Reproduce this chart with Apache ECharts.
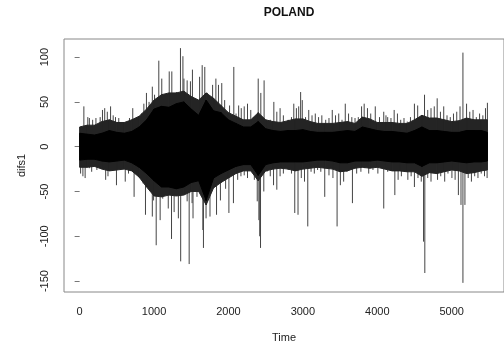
<!DOCTYPE html>
<html style="height: 100%">
<head>
<meta charset="UTF-8">
<title>POLAND</title>
<script src="https://cdn.jsdelivr.net/npm/echarts@6.0.0/dist/echarts.min.js"></script>
</head>
<body style="height: 100%; margin: 0; background: #fff">
<div id="container" style="width: 504px; height: 351px;"></div>
<script type="text/javascript">
// time points of the envelope readings (every 100 steps)
var times = [0, 100, 200, 300, 400, 500, 600, 700, 800, 900, 1000, 1100, 1200, 1300, 1400, 1500, 1600, 1700, 1800, 1900,
  2000, 2100, 2200, 2300, 2400, 2500, 2600, 2700, 2800, 2900, 3000, 3100, 3200, 3300, 3400, 3500, 3600, 3700, 3800, 3900,
  4000, 4100, 4200, 4300, 4400, 4500, 4600, 4700, 4800, 4900, 5000, 5100, 5200, 5300, 5400, 5480];
// solid black core of difs1
var coreHi = [15, 14, 13, 15, 18, 16, 15, 17, 22, 30, 42, 45, 44, 48, 50, 42, 35, 52, 40, 38,
  30, 26, 22, 22, 28, 20, 18, 17, 18, 18, 19, 17, 16, 16, 16, 17, 18, 17, 22, 20,
  18, 17, 17, 16, 15, 18, 22, 18, 18, 17, 16, 16, 18, 18, 18, 16];
var coreLo = [-15, -14, -14, -16, -17, -16, -15, -18, -23, -30, -38, -45, -45, -47, -45, -40, -38, -60, -35, -30,
  -26, -22, -20, -20, -32, -20, -18, -17, -17, -17, -17, -16, -15, -15, -16, -18, -18, -16, -16, -16,
  -15, -16, -17, -17, -18, -18, -22, -18, -18, -17, -16, -17, -18, -17, -17, -16];
// dense dark fringe around the core
var fringeHi = [22, 24, 24, 28, 30, 27, 27, 30, 34, 42, 52, 58, 60, 60, 62, 56, 52, 60, 54, 46,
  38, 34, 30, 30, 38, 30, 28, 27, 29, 31, 31, 28, 26, 26, 26, 27, 28, 26, 33, 31,
  27, 27, 27, 26, 26, 30, 35, 32, 32, 30, 28, 29, 32, 30, 30, 30];
var fringeLo = [-23, -23, -22, -25, -27, -26, -25, -27, -34, -45, -55, -56, -54, -55, -54, -50, -50, -65, -46, -40,
  -35, -30, -27, -27, -38, -27, -25, -24, -25, -27, -25, -24, -23, -24, -25, -28, -27, -24, -23, -24,
  -23, -25, -27, -27, -28, -28, -33, -29, -30, -28, -26, -27, -30, -29, -27, -26];
// visible hairs and spikes: [time, value]
var hairs = [
  [22, 19], [57, 45], [110, 33], [131, 32], [175, 30], [219, 32], [276, 33], [307, 41], [337, 43], [372, 39],
  [416, 45], [451, 35], [482, 33], [526, 32], [556, 24], [591, 26], [635, 26], [670, 32], [714, 43], [745, 30],
  [788, 26], [832, 37], [863, 48], [898, 60], [933, 50], [977, 67], [1007, 58], [1064, 96], [1104, 76], [1152, 48],
  [1204, 84], [1239, 84], [1270, 52], [1301, 61], [1336, 58], [1355, 110], [1388, 101], [1402, 76], [1445, 74], [1489, 73],
  [1516, 86], [1524, 54], [1577, 26], [1612, 78], [1647, 91], [1682, 89], [1717, 60], [1752, 52], [1787, 69], [1831, 76],
  [1866, 69], [1910, 71], [1949, 52], [1980, 30], [2015, 46], [2072, 89], [2102, 37], [2137, 46], [2172, 43], [2212, 45],
  [2256, 48], [2300, 41], [2335, 33], [2365, 32], [2400, 76], [2435, 60], [2479, 74], [2518, 28], [2562, 30], [2610, 50],
  [2650, 39], [2694, 43], [2738, 35], [2760, 24], [2803, 30], [2847, 33], [2878, 48], [2913, 43], [2944, 45], [2970, 61],
  [2992, 52], [3036, 33], [3079, 41], [3123, 35], [3167, 37], [3211, 33], [3255, 35], [3307, 30], [3351, 32], [3395, 41],
  [3439, 35], [3482, 37], [3526, 30], [3570, 48], [3614, 37], [3658, 33], [3701, 32], [3745, 33], [3789, 45], [3824, 48],
  [3868, 43], [3912, 37], [3973, 45], [4030, 33], [4087, 39], [4117, 35], [4140, 33], [4184, 32], [4227, 41], [4271, 37],
  [4315, 30], [4359, 32], [4403, 28], [4446, 33], [4499, 48], [4543, 46], [4591, 35], [4635, 58], [4678, 41], [4722, 43],
  [4766, 45], [4805, 54], [4849, 39], [4893, 45], [4937, 35], [4981, 33], [5024, 37], [5068, 39], [5112, 45], [5151, 105],
  [5200, 48], [5243, 39], [5287, 41], [5331, 33], [5375, 37], [5419, 35], [5454, 43], [5480, 49],
  [13, -30], [44, -33], [74, -35], [131, -24], [162, -28], [232, -26], [285, -20], [350, -37], [381, -33], [425, -26],
  [495, -43], [547, -26], [613, -39], [657, -30], [688, -26], [732, -56], [788, -30], [832, -26], [854, -41], [885, -76],
  [933, -33], [977, -78], [994, -60], [1029, -110], [1082, -82], [1117, -58], [1191, -69], [1235, -103], [1270, -73], [1327, -80],
  [1358, -128], [1402, -47], [1445, -61], [1472, -131], [1511, -63], [1524, -80], [1577, -56], [1612, -35], [1656, -93], [1664, -113],
  [1699, -80], [1752, -78], [1796, -43], [1840, -76], [1892, -60], [1927, -35], [1962, -47], [2006, -74], [2067, -63], [2124, -37],
  [2168, -33], [2212, -32], [2256, -35], [2300, -26], [2348, -37], [2387, -61], [2409, -82], [2420, -100], [2431, -113], [2475, -50],
  [2518, -28], [2562, -33], [2606, -43], [2650, -48], [2694, -33], [2738, -30], [2760, -24], [2803, -26], [2847, -30], [2891, -74],
  [2935, -76], [2979, -35], [3022, -39], [3066, -89], [3110, -28], [3154, -30], [3198, -26], [3241, -28], [3294, -56], [3351, -32],
  [3404, -35], [3460, -89], [3504, -43], [3548, -39], [3592, -28], [3666, -63], [3723, -30], [3780, -28], [3833, -24], [3885, -30],
  [3942, -26], [4008, -30], [4087, -69], [4140, -28], [4184, -26], [4236, -54], [4280, -37], [4324, -33], [4367, -28], [4411, -37],
  [4455, -33], [4499, -45], [4547, -35], [4591, -39], [4622, -106], [4639, -141], [4678, -35], [4722, -39], [4766, -28], [4810, -37],
  [4853, -33], [4906, -39], [4950, -30], [5003, -35], [5046, -37], [5090, -54], [5125, -65], [5151, -152], [5178, -65], [5222, -35],
  [5265, -39], [5309, -33], [5353, -35], [5397, -30], [5441, -33], [5476, -35]
];
var xTicks = [0, 1000, 2000, 3000, 4000, 5000];
var yTicks = [-150, -100, -50, 0, 50, 100];

// one item per segment between two readings: [t0, t1, hi0, lo0, hi1, lo1]
function segments(hi, lo) {
  var out = [];
  for (var i = 0; i < times.length - 1; i++) {
    out.push([times[i], times[i + 1], hi[i], lo[i], hi[i + 1], lo[i + 1]]);
  }
  return out;
}
function bandItem(color) {
  return function (params, api) {
    var a = api.coord([api.value(0), api.value(2)]);
    var b = api.coord([api.value(1), api.value(4)]);
    var c = api.coord([api.value(1), api.value(5)]);
    var d = api.coord([api.value(0), api.value(3)]);
    return {
      type: 'polygon',
      shape: { points: [a, b, c, d] },
      style: { fill: color, stroke: color, lineWidth: 1 }
    };
  };
}

var dom = document.getElementById('container');
var myChart = echarts.init(dom, null, { renderer: 'canvas' });
var font = 'Liberation Sans, Arial, sans-serif';
var plain = function (v) { return String(v); };

var option = {
  animation: false,
  backgroundColor: '#fff',
  graphic: [{
    type: 'text', x: 289, y: 13,
    style: { text: 'POLAND', font: 'bold 12px ' + font, fill: '#111', textAlign: 'center', textVerticalAlign: 'middle' }
  }],
  grid: { left: 64, top: 39, width: 450, height: 253, show: true, borderColor: '#888', borderWidth: 1, backgroundColor: 'transparent' },
  xAxis: {
    type: 'value', min: -210, max: 5703,
    name: 'Time', nameLocation: 'middle', nameGap: 40,
    nameTextStyle: { fontFamily: font, fontSize: 11, color: '#222' },
    axisLine: { show: false },
    splitLine: { show: false },
    axisTick: { show: true, length: 5, customValues: xTicks, lineStyle: { color: '#777' } },
    axisLabel: { customValues: xTicks, formatter: plain, margin: 14, fontFamily: font, fontSize: 11, color: '#222' }
  },
  yAxis: {
    type: 'value', min: -162.2, max: 120.2,
    name: 'difs1', nameLocation: 'middle', nameGap: 37,
    nameTextStyle: { fontFamily: font, fontSize: 11, color: '#222' },
    axisLine: { show: false },
    splitLine: { show: false },
    axisTick: { show: true, length: 5, customValues: yTicks, lineStyle: { color: '#777' } },
    axisLabel: { customValues: yTicks, formatter: plain, rotate: 90, margin: 14, fontFamily: font, fontSize: 11, color: '#222' }
  },
  series: [{
    type: 'custom', silent: true, z: 3,
    renderItem: function (params, api) {
      var p0 = api.coord([api.value(0), 0]);
      var p1 = api.coord([api.value(0), api.value(1)]);
      return { type: 'line', shape: { x1: p0[0], y1: p0[1], x2: p1[0], y2: p1[1] }, style: { stroke: '#444', lineWidth: 1 } };
    },
    data: hairs
  }, {
    type: 'custom', silent: true, z: 4,
    renderItem: bandItem('#242424'),
    data: segments(fringeHi, fringeLo)
  }, {
    type: 'custom', silent: true, z: 5,
    renderItem: bandItem('#000'),
    data: segments(coreHi, coreLo)
  }]
};

myChart.setOption(option, true);
</script>
</body>
</html>
